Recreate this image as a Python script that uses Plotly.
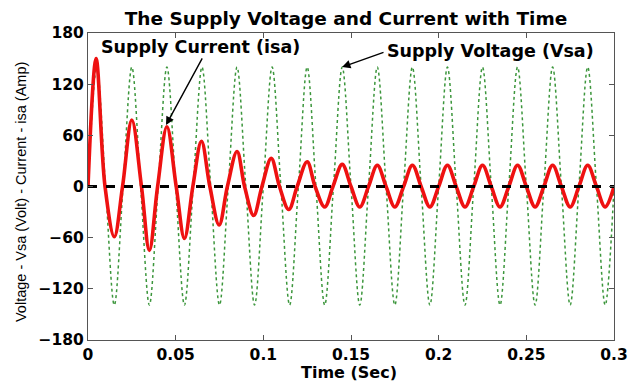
import plotly.graph_objects as go

# ---- data ----
volt_time = [0.0, 0.005, 0.01, 0.015, 0.02, 0.025, 0.03, 0.035, 0.04, 0.045,
             0.05, 0.055, 0.06, 0.065, 0.07, 0.075, 0.08, 0.085, 0.09, 0.095,
             0.1, 0.105, 0.11, 0.115, 0.12, 0.125, 0.13, 0.135, 0.14, 0.145,
             0.15, 0.155, 0.16, 0.165, 0.17, 0.175, 0.18, 0.185, 0.19, 0.195,
             0.2, 0.205, 0.21, 0.215, 0.22, 0.225, 0.23, 0.235, 0.24, 0.245,
             0.25, 0.255, 0.26, 0.265, 0.27, 0.275, 0.28, 0.285, 0.29, 0.295, 0.3]
volt_vals = [0, 140, 0, -139, 0, 140, 0, -139, 0, 140,
             0, -139, 0, 140, 0, -139, 0, 140, 0, -139,
             0, 140, 0, -139, 0, 140, 0, -139, 0, 140,
             0, -139, 0, 140, 0, -139, 0, 140, 0, -139,
             0, 140, 0, -139, 0, 140, 0, -139, 0, 140,
             0, -139, 0, 140, 0, -139, 0, 140, 0, -139, 0]

curr_time = [0.0, 0.0046, 0.0097, 0.015, 0.0197, 0.025, 0.0305, 0.035, 0.0397, 0.045,
             0.0503, 0.055, 0.0598, 0.0647, 0.0695, 0.0748, 0.0795, 0.085, 0.0893, 0.0945,
             0.0992, 0.1045, 0.1092, 0.1145, 0.1193, 0.125, 0.1295, 0.135, 0.1397, 0.145,
             0.15, 0.155, 0.16, 0.165, 0.17, 0.175, 0.18, 0.185, 0.19, 0.195,
             0.2, 0.205, 0.21, 0.215, 0.22, 0.225, 0.23, 0.235, 0.24, 0.245,
             0.25, 0.255, 0.26, 0.265, 0.27, 0.275, 0.28, 0.285, 0.29, 0.295, 0.3]
curr_vals = [0, 150, 0, -59, 0, 78, 0, -75, 0, 70,
             0, -61, 0, 53, 0, -45, 0, 41, 0, -34,
             0, 33, 0, -27, 0, 29, 0, -24, 0, 26,
             0, -24, 0, 25, 0, -24, 0, 25, 0, -24,
             0, 25, 0, -24, 0, 25, 0, -24, 0, 25,
             0, -24, 0, 25, 0, -24, 0, 25, 0, -24, 0]

zero_time = [0.0, 0.3]
zero_vals = [0, 0]

x_ticks = [0, 0.05, 0.1, 0.15, 0.2, 0.25, 0.3]
x_labels = ["0", "0.05", "0.1", "0.15", "0.2", "0.25", "0.3"]
y_ticks = [-180, -120, -60, 0, 60, 120, 180]

FONT = "DejaVu Sans"
OFF = 8                      # page body margin offset
W, H = 641 - OFF, 382 - OFF
L, R, T, B = 88 - OFF, 27, 33 - OFF, 42  # plot area at page px 88..614, 33..340
PW, PH = W - L - R, H - T - B

def px_x(p):   # page pixel -> paper fraction
    return (p - OFF - L) / PW

def px_y(p):
    return (H - B - (p - OFF)) / PH

fig = go.Figure()
fig.add_trace(go.Scatter(x=volt_time, y=volt_vals, mode="lines",
                         line=dict(color="#3c963c", width=1.5, dash="dot",
                                   shape="spline", smoothing=1.0),
                         showlegend=False))
fig.add_trace(go.Scatter(x=curr_time, y=curr_vals, mode="lines",
                         line=dict(color="#ee1111", width=3.6,
                                   shape="spline", smoothing=1.0),
                         showlegend=False))
fig.add_trace(go.Scatter(x=zero_time, y=zero_vals, mode="lines",
                         line=dict(color="black", width=3, dash="dash"),
                         showlegend=False))

axis_common = dict(showline=True, linecolor="#555555", linewidth=1.2,
                   mirror="ticks", ticks="inside", ticklen=5, tickcolor="#555555",
                   showgrid=False, zeroline=False, automargin=False,
                   tickfont=dict(family=FONT, size=15.5, color="black", weight="bold"))

fig.update_xaxes(range=[0, 0.3], tickvals=x_ticks, ticktext=x_labels, **axis_common)
fig.update_yaxes(range=[-180, 180], tickvals=y_ticks, **axis_common)

# axis titles as annotations
fig.add_annotation(x=px_x(349), y=px_y(372.5), xref="paper", yref="paper",
                   text="<b>Time (Sec)</b>", showarrow=False,
                   xanchor="center", yanchor="middle",
                   font=dict(family=FONT, size=16, color="black"))
fig.add_annotation(x=px_x(21), y=px_y(192), xref="paper", yref="paper",
                   text="Voltage - Vsa (Volt) - Current - isa (Amp)",
                   textangle=-90, showarrow=False, xanchor="center", yanchor="middle",
                   font=dict(family="Liberation Sans Narrow, Liberation Sans", size=14.5, color="black"))

# curve annotations
fig.add_annotation(x=0.0445, y=72, ax=0.0656, ay=152, xref="x", yref="y",
                   axref="x", ayref="y", text="", showarrow=True,
                   arrowhead=2, arrowsize=1.2, arrowwidth=1.4, arrowcolor="black")
fig.add_annotation(x=0.064, y=164, xref="x", yref="y", text="<b>Supply Current (isa)</b>",
                   showarrow=False, font=dict(family=FONT, size=17.5, color="black"))
fig.add_annotation(x=0.1449, y=140, ax=0.1694, ay=158, xref="x", yref="y",
                   axref="x", ayref="y", text="", showarrow=True,
                   arrowhead=2, arrowsize=1.2, arrowwidth=1.4, arrowcolor="black")
fig.add_annotation(x=0.1695, y=159, xref="x", yref="y", text="<b>Supply Voltage (Vsa)</b>",
                   xanchor="left", showarrow=False, font=dict(family=FONT, size=17.5, color="black"))

fig.update_layout(
    width=W, height=H,
    margin=dict(l=L, r=R, t=T, b=B),
    paper_bgcolor="white", plot_bgcolor="white",
    title=dict(text="<b>The Supply Voltage and Current with Time</b>",
               x=(346 - OFF) / W, xanchor="center", y=1 - (19 - OFF) / H, yanchor="middle",
               font=dict(family=FONT, size=18.5, color="black")),
)

fig.write_html("out.html")
